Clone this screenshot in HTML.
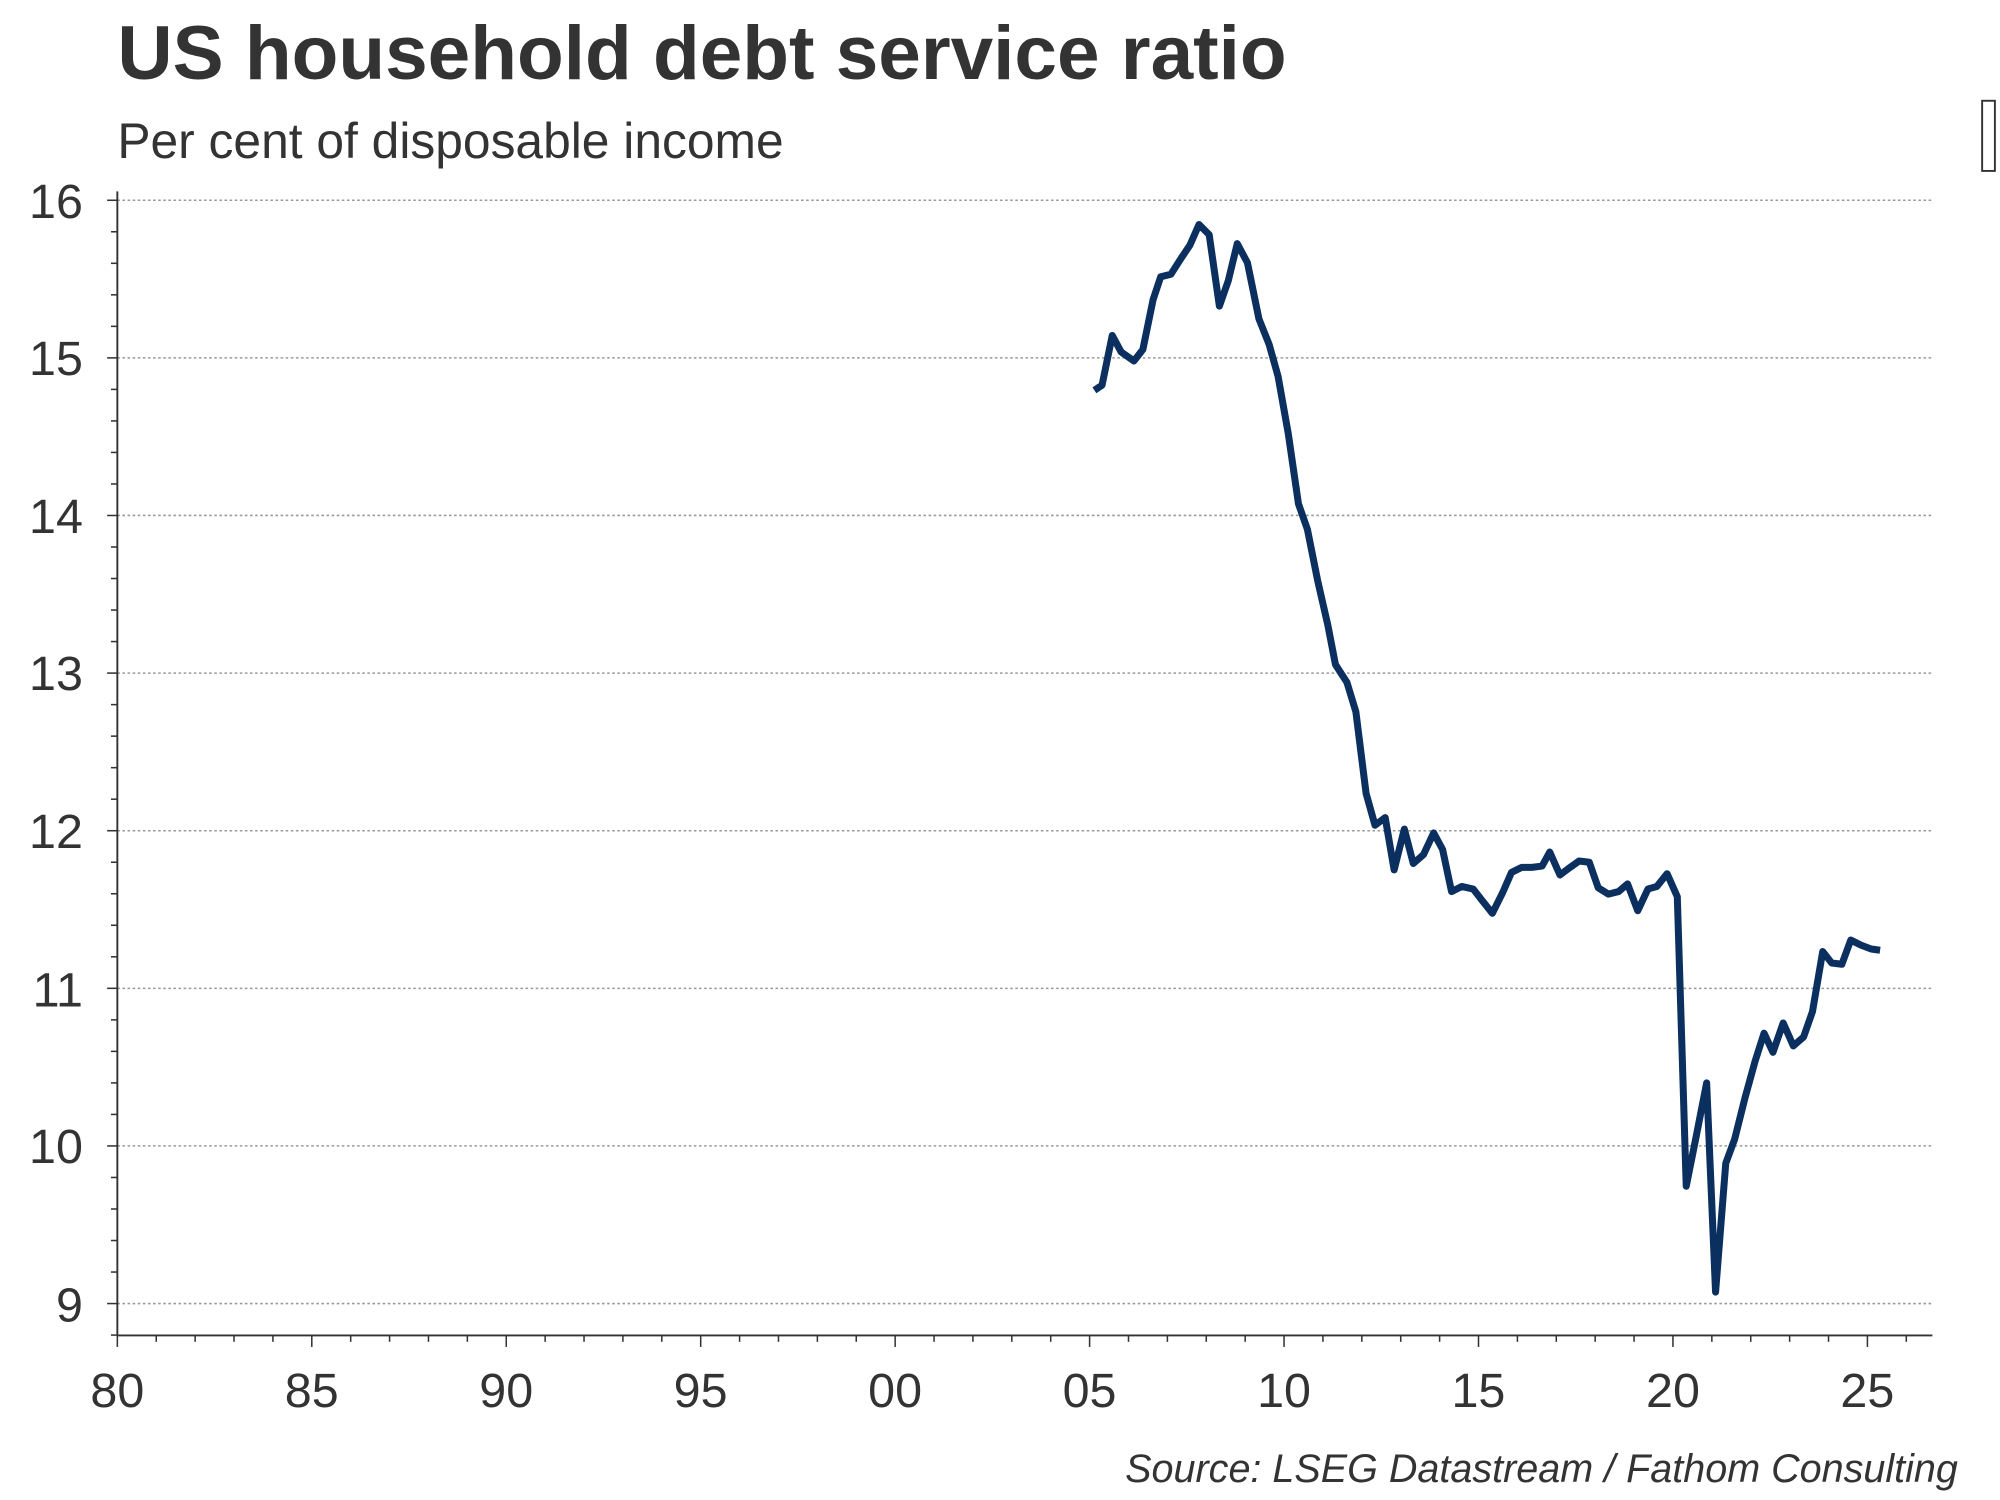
<!DOCTYPE html>
<html><head><meta charset="utf-8"><style>
html,body{margin:0;padding:0;background:#fff;}
svg{display:block;}
</style></head><body>
<svg width="2000" height="1500" viewBox="0 0 1568 1176" preserveAspectRatio="none" xmlns="http://www.w3.org/2000/svg">
<rect width="1568" height="1176" fill="#fff"/>
<text x="92" y="62" font-family="Liberation Sans, sans-serif" font-weight="bold" font-size="60" fill="#333">US household debt service ratio</text>
<text x="92" y="124" font-family="Liberation Sans, sans-serif" font-size="39" fill="#333">Per cent of disposable income</text>
<rect x="1554" y="79" width="10" height="55" fill="none" stroke="#333" stroke-width="1.5"/>
<g stroke="#999" stroke-width="1.2" stroke-dasharray="2,2">
<line x1="92" x2="1515" y1="157" y2="157"/>
<line x1="92" x2="1515" y1="280.6" y2="280.6"/>
<line x1="92" x2="1515" y1="404.1" y2="404.1"/>
<line x1="92" x2="1515" y1="527.7" y2="527.7"/>
<line x1="92" x2="1515" y1="651.3" y2="651.3"/>
<line x1="92" x2="1515" y1="774.9" y2="774.9"/>
<line x1="92" x2="1515" y1="898.4" y2="898.4"/>
<line x1="92" x2="1515" y1="1022" y2="1022"/>
</g>
<g stroke="#333" stroke-width="1.5">
<line x1="92" y1="150" x2="92" y2="1047"/>
<line x1="92" y1="1047" x2="1515" y2="1047"/>
</g>
<g id="yt" stroke="#333" stroke-width="1.2"></g>
<g id="xt" stroke="#333" stroke-width="1.2"></g>
<g font-family="Liberation Sans, sans-serif" font-size="38" fill="#333" text-anchor="end">
<text x="65" y="171">16</text><text x="65" y="294">15</text><text x="65" y="418">14</text>
<text x="65" y="541">13</text><text x="65" y="665">12</text><text x="65" y="789">11</text>
<text x="65" y="912">10</text><text x="65" y="1036">9</text>
</g>
<g font-family="Liberation Sans, sans-serif" font-size="38" fill="#333" text-anchor="middle">
<text x="92" y="1103">80</text><text x="244.4" y="1103">85</text><text x="396.9" y="1103">90</text>
<text x="549.3" y="1103">95</text><text x="701.8" y="1103">00</text><text x="854.2" y="1103">05</text>
<text x="1006.7" y="1103">10</text><text x="1159.1" y="1103">15</text><text x="1311.6" y="1103">20</text>
<text x="1464" y="1103">25</text>
</g>
<text x="1535" y="1162" text-anchor="end" font-family="Liberation Sans, sans-serif" font-style="italic" font-size="31" fill="#333">Source: LSEG Datastream / Fathom Consulting</text>
<polyline fill="none" stroke="#0b3060" stroke-width="5.5" stroke-linejoin="round" points="858,306 864,302 872,263 879,276 889,283 896,274 904,235 910,217 918,215 925,204 933,192 940,176 948,184 956,240 963,220 970,191 978,206 987,250 995,270 1002,295 1010,340 1018,395 1025,415 1033,455 1041,490 1047,521 1056,535 1063,558 1071,622 1078,647 1086,641 1093,682 1101,650 1108,677 1116,670 1124,653 1131,666 1138,699 1146,695 1155,697 1162,706 1170,716 1178,700 1185,684 1193,680 1201,680 1209,679 1215,668 1223,686 1231,680 1238,675 1246,676 1253,696 1261,701 1269,699 1276,693 1284,714 1292,697 1299,695 1307,685 1315,703 1322,930 1330,890 1338,849 1345,1013 1353,912 1360,893 1368,861 1376,832 1383,810 1390,825 1398,802 1406,820 1414,813 1421,793 1429,746 1436,755 1444,756 1451,737 1459,741 1467,744 1474,745"/>
<script>
var ns="http://www.w3.org/2000/svg";
var yt=document.getElementById("yt"),xt=document.getElementById("xt");
function L(g,x1,y1,x2,y2){var l=document.createElementNS(ns,"line");l.setAttribute("x1",x1);l.setAttribute("y1",y1);l.setAttribute("x2",x2);l.setAttribute("y2",y2);g.appendChild(l);}
for(var i=0;i<=36;i++){var y=157+i*123.57/5;L(yt,i%5==0?84:87,y,92,y);}
for(var i=0;i<=47;i++){var x=92+i*30.49;if(x>1515)break;L(xt,x,1047,x,i%5==0?1056:1052);}
</script>
</svg>
</body></html>
